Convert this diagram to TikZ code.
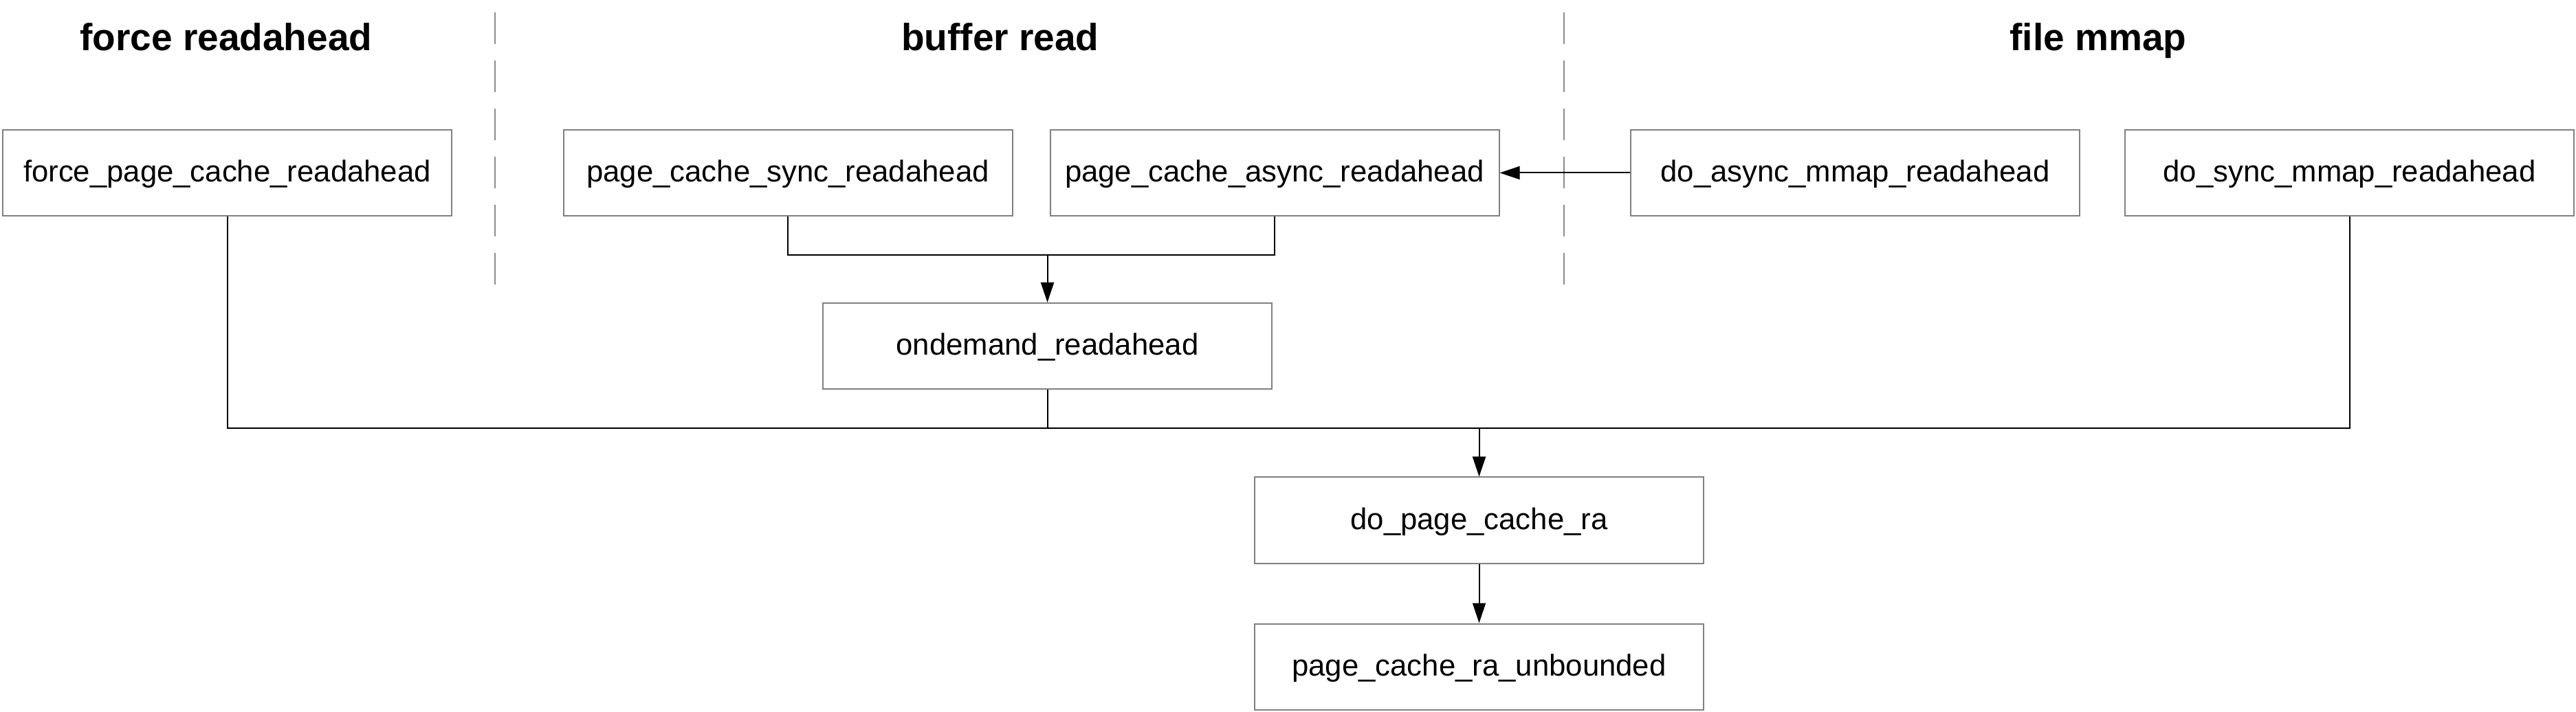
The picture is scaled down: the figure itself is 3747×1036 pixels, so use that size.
\documentclass[tikz,border=0pt]{standalone}
\usepackage{fontspec}
\setmainfont{Liberation Sans}
\usetikzlibrary{arrows.meta}
\definecolor{boxgray}{RGB}{128,128,128}
\definecolor{sepgray}{RGB}{140,140,140}
\begin{document}
\begin{tikzpicture}[x=0.5pt,y=-0.5pt,
  fbox/.style={draw=boxgray, line width=1pt, minimum width=326.5pt, minimum height=62.5pt, inner sep=0pt,
    font=\fontsize{21.85pt}{26pt}\selectfont, text height=17.5pt, text depth=4.4pt},
  ttl/.style={anchor=base, font=\fontsize{27.5pt}{33pt}\selectfont\bfseries},
  conn/.style={line width=1pt, black},
  arr/.style={conn, -{Triangle[length=14.5pt,width=9.5pt]}},
  sep/.style={draw=sepgray, line width=0.75pt, dash pattern=on 23pt off 12pt}]
\useasboundingbox (0,0) rectangle (3747,1036);
% titles
\node[ttl] (t1) at (329,74) {force readahead};
\node[ttl] (t2) at (1455,74) {buffer read};
\node[ttl] (t3) at (3052,74) {file mmap};
% separators
\draw[sep] (720,18) -- (720,414);
\draw[sep] (2275,18) -- (2275,414);
% boxes
\node[fbox] (force) at (330.5,251.5) {force\_page\_cache\_readahead};
\node[fbox] (sync) at (1146,251.5) {page\_cache\_sync\_readahead};
\node[fbox] (async) at (1854,251.5) {page\_cache\_async\_readahead};
\node[fbox] (doasync) at (2698.5,251.5) {do\_async\_mmap\_readahead};
\node[fbox] (dosync) at (3417.5,251.5) {do\_sync\_mmap\_readahead};
\node[fbox] (ondemand) at (1523.5,503.5) {ondemand\_readahead};
\node[fbox] (dopage) at (2151.5,757) {do\_page\_cache\_ra};
\node[fbox] (unb) at (2151.5,970) {page\_cache\_ra\_unbounded};
% junctions
\coordinate (j1) at (1523.5,371);
\coordinate (bus) at (2151.5,623);
% connectors
\draw[conn] (sync.south) |- (j1) -| (async.south);
\draw[arr] (j1) -- (ondemand.north);
\draw[conn] (force.south) |- (bus) -| (dosync.south);
\draw[conn] (ondemand.south) -- (ondemand.south |- bus);
\draw[arr] (bus) -- (dopage.north);
\draw[arr] (dopage.south) -- (unb.north);
\draw[arr] (doasync.west) -- (async.east);
\end{tikzpicture}
\end{document}
